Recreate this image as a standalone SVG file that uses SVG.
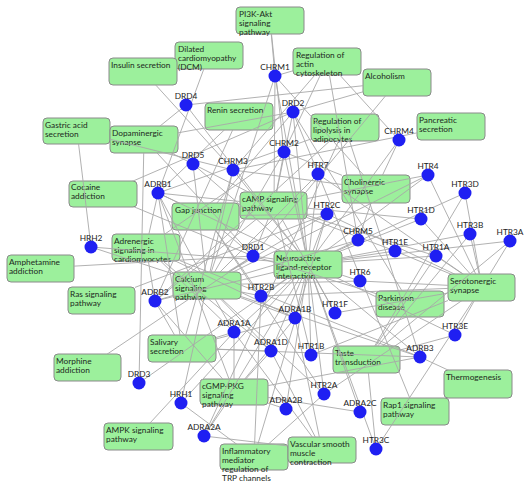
<svg xmlns="http://www.w3.org/2000/svg" width="529" height="488" viewBox="0 0 529 488">
<style>
.b rect{fill:#9cf09c;stroke:#8a8a8a;stroke-width:1}
.b text{font-family:Lato,"Liberation Sans",sans-serif;font-size:8.3px;fill:#1c2a1c}
.g circle{fill:#1f1ff2}
.g text{font-family:Lato,"Liberation Sans",sans-serif;font-size:8.3px;fill:#222;text-anchor:middle}
#edges line{stroke:#a8a8a8;stroke-width:0.9}
mask rect.w{fill:#fff}
mask rect.k{fill:#000}
</style>
<defs>
<mask id="m-pi3k" maskUnits="userSpaceOnUse" x="0" y="0" width="529" height="488"><rect class="w" width="529" height="488"/><rect class="k" x="236" y="7" width="68" height="27"/></mask>
<mask id="m-dcm" maskUnits="userSpaceOnUse" x="0" y="0" width="529" height="488"><rect class="w" width="529" height="488"/><rect class="k" x="175" y="42" width="68" height="27"/></mask>
<mask id="m-ins" maskUnits="userSpaceOnUse" x="0" y="0" width="529" height="488"><rect class="w" width="529" height="488"/><rect class="k" x="109" y="58" width="68" height="27"/></mask>
<mask id="m-act" maskUnits="userSpaceOnUse" x="0" y="0" width="529" height="488"><rect class="w" width="529" height="488"/><rect class="k" x="293" y="48" width="68" height="27"/></mask>
<mask id="m-alc" maskUnits="userSpaceOnUse" x="0" y="0" width="529" height="488"><rect class="w" width="529" height="488"/><rect class="k" x="363" y="69" width="68" height="27"/></mask>
<mask id="m-ren" maskUnits="userSpaceOnUse" x="0" y="0" width="529" height="488"><rect class="w" width="529" height="488"/><rect class="k" x="205" y="103" width="68" height="27"/></mask>
<mask id="m-lip" maskUnits="userSpaceOnUse" x="0" y="0" width="529" height="488"><rect class="w" width="529" height="488"/><rect class="k" x="311" y="114" width="68" height="27"/></mask>
<mask id="m-pan" maskUnits="userSpaceOnUse" x="0" y="0" width="529" height="488"><rect class="w" width="529" height="488"/><rect class="k" x="417" y="113" width="68" height="27"/></mask>
<mask id="m-gas" maskUnits="userSpaceOnUse" x="0" y="0" width="529" height="488"><rect class="w" width="529" height="488"/><rect class="k" x="43" y="118" width="67" height="26"/></mask>
<mask id="m-dop" maskUnits="userSpaceOnUse" x="0" y="0" width="529" height="488"><rect class="w" width="529" height="488"/><rect class="k" x="110" y="126" width="68" height="27"/></mask>
<mask id="m-coc" maskUnits="userSpaceOnUse" x="0" y="0" width="529" height="488"><rect class="w" width="529" height="488"/><rect class="k" x="69" y="181" width="68" height="26"/></mask>
<mask id="m-cho" maskUnits="userSpaceOnUse" x="0" y="0" width="529" height="488"><rect class="w" width="529" height="488"/><rect class="k" x="342" y="175" width="68" height="28"/></mask>
<mask id="m-camp" maskUnits="userSpaceOnUse" x="0" y="0" width="529" height="488"><rect class="w" width="529" height="488"/><rect class="k" x="240" y="192" width="67" height="27"/></mask>
<mask id="m-gap" maskUnits="userSpaceOnUse" x="0" y="0" width="529" height="488"><rect class="w" width="529" height="488"/><rect class="k" x="172" y="203" width="67" height="27"/></mask>
<mask id="m-adr" maskUnits="userSpaceOnUse" x="0" y="0" width="529" height="488"><rect class="w" width="529" height="488"/><rect class="k" x="112" y="234" width="68" height="27"/></mask>
<mask id="m-amp" maskUnits="userSpaceOnUse" x="0" y="0" width="529" height="488"><rect class="w" width="529" height="488"/><rect class="k" x="7" y="255" width="67" height="27"/></mask>
<mask id="m-ras" maskUnits="userSpaceOnUse" x="0" y="0" width="529" height="488"><rect class="w" width="529" height="488"/><rect class="k" x="68" y="287" width="67" height="27"/></mask>
<mask id="m-na" maskUnits="userSpaceOnUse" x="0" y="0" width="529" height="488"><rect class="w" width="529" height="488"/><rect class="k" x="274" y="251" width="68" height="27"/></mask>
<mask id="m-cal" maskUnits="userSpaceOnUse" x="0" y="0" width="529" height="488"><rect class="w" width="529" height="488"/><rect class="k" x="173" y="272" width="68" height="27"/></mask>
<mask id="m-ser" maskUnits="userSpaceOnUse" x="0" y="0" width="529" height="488"><rect class="w" width="529" height="488"/><rect class="k" x="448" y="274" width="67" height="27"/></mask>
<mask id="m-par" maskUnits="userSpaceOnUse" x="0" y="0" width="529" height="488"><rect class="w" width="529" height="488"/><rect class="k" x="376" y="291" width="68" height="26"/></mask>
<mask id="m-sal" maskUnits="userSpaceOnUse" x="0" y="0" width="529" height="488"><rect class="w" width="529" height="488"/><rect class="k" x="148" y="335" width="68" height="27"/></mask>
<mask id="m-mor" maskUnits="userSpaceOnUse" x="0" y="0" width="529" height="488"><rect class="w" width="529" height="488"/><rect class="k" x="54" y="354" width="67" height="27"/></mask>
<mask id="m-tas" maskUnits="userSpaceOnUse" x="0" y="0" width="529" height="488"><rect class="w" width="529" height="488"/><rect class="k" x="333" y="346" width="67" height="27"/></mask>
<mask id="m-the" maskUnits="userSpaceOnUse" x="0" y="0" width="529" height="488"><rect class="w" width="529" height="488"/><rect class="k" x="444" y="370" width="68" height="28"/></mask>
<mask id="m-cgmp" maskUnits="userSpaceOnUse" x="0" y="0" width="529" height="488"><rect class="w" width="529" height="488"/><rect class="k" x="200" y="379" width="68" height="26"/></mask>
<mask id="m-rap" maskUnits="userSpaceOnUse" x="0" y="0" width="529" height="488"><rect class="w" width="529" height="488"/><rect class="k" x="381" y="398" width="68" height="27"/></mask>
<mask id="m-ampk" maskUnits="userSpaceOnUse" x="0" y="0" width="529" height="488"><rect class="w" width="529" height="488"/><rect class="k" x="104" y="423" width="69" height="27"/></mask>
<mask id="m-inf" maskUnits="userSpaceOnUse" x="0" y="0" width="529" height="488"><rect class="w" width="529" height="488"/><rect class="k" x="220" y="444" width="68" height="26"/></mask>
<mask id="m-vas" maskUnits="userSpaceOnUse" x="0" y="0" width="529" height="488"><rect class="w" width="529" height="488"/><rect class="k" x="288" y="437" width="68" height="26"/></mask>
</defs>
<rect width="529" height="488" fill="#fff"/>
<g id="n-pi3k" class="b"><rect x="236" y="7" width="68" height="27" rx="4"/><text x="239" y="17">PI3K-Akt<tspan x="239" dy="9">signaling</tspan><tspan x="239" dy="9">pathway</tspan></text></g>
<g id="n-dcm" class="b"><rect x="175" y="42" width="68" height="27" rx="4"/><text x="178" y="52">Dilated<tspan x="178" dy="9">cardiomyopathy</tspan><tspan x="178" dy="9">(DCM)</tspan></text></g>
<g id="n-ins" class="b"><rect x="109" y="58" width="68" height="27" rx="4"/><text x="111" y="68">Insulin secretion</text></g>
<g id="n-act" class="b"><rect x="293" y="48" width="68" height="27" rx="4"/><text x="296" y="58">Regulation of<tspan x="296" dy="9">actin</tspan><tspan x="296" dy="9">cytoskeleton</tspan></text></g>
<g id="n-alc" class="b"><rect x="363" y="69" width="68" height="27" rx="4"/><text x="365" y="79">Alcoholism</text></g>
<g id="n-ren" class="b"><rect x="205" y="103" width="68" height="27" rx="4"/><text x="207" y="113">Renin secretion</text></g>
<g id="n-lip" class="b"><rect x="311" y="114" width="68" height="27" rx="4"/><text x="313" y="124">Regulation of<tspan x="313" dy="9">lipolysis in</tspan><tspan x="313" dy="9">adipocytes</tspan></text></g>
<g id="n-pan" class="b"><rect x="417" y="113" width="68" height="27" rx="4"/><text x="419" y="123">Pancreatic<tspan x="419" dy="9">secretion</tspan></text></g>
<g id="n-gas" class="b"><rect x="43" y="118" width="67" height="26" rx="4"/><text x="45" y="128">Gastric acid<tspan x="45" dy="9">secretion</tspan></text></g>
<g id="n-dop" class="b"><rect x="110" y="126" width="68" height="27" rx="4"/><text x="112" y="136">Dopaminergic<tspan x="112" dy="9">synapse</tspan></text></g>
<g id="n-coc" class="b"><rect x="69" y="181" width="68" height="26" rx="4"/><text x="71" y="190">Cocaine<tspan x="71" dy="9">addiction</tspan></text></g>
<g id="n-cho" class="b"><rect x="342" y="175" width="68" height="28" rx="4"/><text x="344" y="185">Cholinergic<tspan x="344" dy="9">synapse</tspan></text></g>
<g id="n-camp" class="b"><rect x="240" y="192" width="67" height="27" rx="4"/><text x="242" y="202">cAMP signaling<tspan x="242" dy="9">pathway</tspan></text></g>
<g id="n-gap" class="b"><rect x="172" y="203" width="67" height="27" rx="4"/><text x="175" y="213">Gap junction</text></g>
<g id="n-adr" class="b"><rect x="112" y="234" width="68" height="27" rx="4"/><text x="114" y="244">Adrenergic<tspan x="114" dy="9">signaling in</tspan><tspan x="114" dy="9">cardiomyocytes</tspan></text></g>
<g id="n-amp" class="b"><rect x="7" y="255" width="67" height="27" rx="4"/><text x="9" y="265">Amphetamine<tspan x="9" dy="9">addiction</tspan></text></g>
<g id="n-ras" class="b"><rect x="68" y="287" width="67" height="27" rx="4"/><text x="70" y="297">Ras signaling<tspan x="70" dy="9">pathway</tspan></text></g>
<g id="n-na" class="b"><rect x="274" y="251" width="68" height="27" rx="4"/><text x="276" y="261">Neuroactive<tspan x="276" dy="9">ligand-receptor</tspan><tspan x="276" dy="9">interaction</tspan></text></g>
<g id="n-cal" class="b"><rect x="173" y="272" width="68" height="27" rx="4"/><text x="175" y="282">Calcium<tspan x="175" dy="9">signaling</tspan><tspan x="175" dy="9">pathway</tspan></text></g>
<g id="n-ser" class="b"><rect x="448" y="274" width="67" height="27" rx="4"/><text x="450" y="284">Serotonergic<tspan x="450" dy="9">synapse</tspan></text></g>
<g id="n-par" class="b"><rect x="376" y="291" width="68" height="26" rx="4"/><text x="378" y="301">Parkinson<tspan x="378" dy="9">disease</tspan></text></g>
<g id="n-sal" class="b"><rect x="148" y="335" width="68" height="27" rx="4"/><text x="150" y="345">Salivary<tspan x="150" dy="9">secretion</tspan></text></g>
<g id="n-mor" class="b"><rect x="54" y="354" width="67" height="27" rx="4"/><text x="56" y="364">Morphine<tspan x="56" dy="9">addiction</tspan></text></g>
<g id="n-tas" class="b"><rect x="333" y="346" width="67" height="27" rx="4"/><text x="335" y="356">Taste<tspan x="335" dy="9">transduction</tspan></text></g>
<g id="n-the" class="b"><rect x="444" y="370" width="68" height="28" rx="4"/><text x="446" y="380">Thermogenesis</text></g>
<g id="n-cgmp" class="b"><rect x="200" y="379" width="68" height="26" rx="4"/><text x="202" y="389">cGMP-PKG<tspan x="202" dy="9">signaling</tspan><tspan x="202" dy="9">pathway</tspan></text></g>
<g id="n-rap" class="b"><rect x="381" y="398" width="68" height="27" rx="4"/><text x="383" y="408">Rap1 signaling<tspan x="383" dy="9">pathway</tspan></text></g>
<g id="n-ampk" class="b"><rect x="104" y="423" width="69" height="27" rx="4"/><text x="106" y="433">AMPK signaling<tspan x="106" dy="9">pathway</tspan></text></g>
<g id="n-inf" class="b"><rect x="220" y="444" width="68" height="26" rx="4"/><text x="222" y="454">Inflammatory<tspan x="222" dy="9">mediator</tspan><tspan x="222" dy="9">regulation of</tspan><tspan x="222" dy="9">TRP channels</tspan></text></g>
<g id="n-vas" class="b"><rect x="288" y="437" width="68" height="26" rx="4"/><text x="290" y="447">Vascular smooth<tspan x="290" dy="9">muscle</tspan><tspan x="290" dy="9">contraction</tspan></text></g>
<g id="edges">
<g mask="url(#m-na)"><line x1="308" y1="264" x2="275" y2="76"/><line x1="308" y1="264" x2="284" y2="152"/><line x1="308" y1="264" x2="233" y2="170"/><line x1="308" y1="264" x2="399" y2="140"/><line x1="308" y1="264" x2="358" y2="240"/><line x1="308" y1="264" x2="253" y2="256"/><line x1="308" y1="264" x2="293" y2="112"/><line x1="308" y1="264" x2="139" y2="383"/><line x1="308" y1="264" x2="186" y2="105"/><line x1="308" y1="264" x2="193" y2="164"/><line x1="308" y1="264" x2="436" y2="256"/><line x1="308" y1="264" x2="311" y2="355"/><line x1="308" y1="264" x2="421" y2="219"/><line x1="308" y1="264" x2="395" y2="251"/><line x1="308" y1="264" x2="335" y2="313"/><line x1="308" y1="264" x2="324" y2="394"/><line x1="308" y1="264" x2="261" y2="296"/><line x1="308" y1="264" x2="327" y2="214"/><line x1="308" y1="264" x2="510" y2="241"/><line x1="308" y1="264" x2="470" y2="234"/><line x1="308" y1="264" x2="376" y2="449"/><line x1="308" y1="264" x2="465" y2="193"/><line x1="308" y1="264" x2="455" y2="335"/><line x1="308" y1="264" x2="428" y2="175"/><line x1="308" y1="264" x2="360" y2="281"/><line x1="308" y1="264" x2="318" y2="174"/><line x1="308" y1="264" x2="234" y2="332"/><line x1="308" y1="264" x2="295" y2="318"/><line x1="308" y1="264" x2="271" y2="351"/><line x1="308" y1="264" x2="204" y2="436"/><line x1="308" y1="264" x2="286" y2="409"/><line x1="308" y1="264" x2="360" y2="412"/><line x1="308" y1="264" x2="158" y2="193"/><line x1="308" y1="264" x2="155" y2="301"/><line x1="308" y1="264" x2="420" y2="357"/><line x1="308" y1="264" x2="181" y2="403"/><line x1="308" y1="264" x2="91" y2="247"/></g>
<g mask="url(#m-pi3k)"><line x1="270" y1="20" x2="275" y2="76"/><line x1="270" y1="20" x2="284" y2="152"/></g>
<g mask="url(#m-dcm)"><line x1="209" y1="55" x2="158" y2="193"/></g>
<g mask="url(#m-ins)"><line x1="143" y1="71" x2="233" y2="170"/></g>
<g mask="url(#m-act)"><line x1="327" y1="61" x2="275" y2="76"/><line x1="327" y1="61" x2="284" y2="152"/><line x1="327" y1="61" x2="233" y2="170"/><line x1="327" y1="61" x2="399" y2="140"/><line x1="327" y1="61" x2="358" y2="240"/></g>
<g mask="url(#m-alc)"><line x1="397" y1="82" x2="253" y2="256"/><line x1="397" y1="82" x2="293" y2="112"/><line x1="397" y1="82" x2="186" y2="105"/></g>
<g mask="url(#m-ren)"><line x1="239" y1="116" x2="158" y2="193"/><line x1="239" y1="116" x2="155" y2="301"/></g>
<g mask="url(#m-lip)"><line x1="345" y1="127" x2="158" y2="193"/><line x1="345" y1="127" x2="155" y2="301"/><line x1="345" y1="127" x2="420" y2="357"/><line x1="345" y1="127" x2="204" y2="436"/></g>
<g mask="url(#m-pan)"><line x1="451" y1="126" x2="233" y2="170"/></g>
<g mask="url(#m-gas)"><line x1="77" y1="131" x2="233" y2="170"/><line x1="77" y1="131" x2="91" y2="247"/></g>
<g mask="url(#m-dop)"><line x1="144" y1="139" x2="253" y2="256"/><line x1="144" y1="139" x2="293" y2="112"/><line x1="144" y1="139" x2="139" y2="383"/><line x1="144" y1="139" x2="186" y2="105"/><line x1="144" y1="139" x2="193" y2="164"/></g>
<g mask="url(#m-coc)"><line x1="103" y1="194" x2="253" y2="256"/><line x1="103" y1="194" x2="293" y2="112"/></g>
<g mask="url(#m-cho)"><line x1="376" y1="189" x2="275" y2="76"/><line x1="376" y1="189" x2="284" y2="152"/><line x1="376" y1="189" x2="233" y2="170"/><line x1="376" y1="189" x2="399" y2="140"/><line x1="376" y1="189" x2="358" y2="240"/></g>
<g mask="url(#m-camp)"><line x1="274" y1="205" x2="158" y2="193"/><line x1="274" y1="205" x2="155" y2="301"/><line x1="274" y1="205" x2="275" y2="76"/><line x1="274" y1="205" x2="284" y2="152"/><line x1="274" y1="205" x2="253" y2="256"/><line x1="274" y1="205" x2="293" y2="112"/><line x1="274" y1="205" x2="193" y2="164"/><line x1="274" y1="205" x2="436" y2="256"/><line x1="274" y1="205" x2="311" y2="355"/><line x1="274" y1="205" x2="421" y2="219"/><line x1="274" y1="205" x2="395" y2="251"/><line x1="274" y1="205" x2="335" y2="313"/><line x1="274" y1="205" x2="428" y2="175"/></g>
<g mask="url(#m-gap)"><line x1="206" y1="216" x2="158" y2="193"/><line x1="206" y1="216" x2="253" y2="256"/><line x1="206" y1="216" x2="293" y2="112"/><line x1="206" y1="216" x2="324" y2="394"/><line x1="206" y1="216" x2="261" y2="296"/><line x1="206" y1="216" x2="327" y2="214"/></g>
<g mask="url(#m-adr)"><line x1="146" y1="247" x2="234" y2="332"/><line x1="146" y1="247" x2="295" y2="318"/><line x1="146" y1="247" x2="271" y2="351"/><line x1="146" y1="247" x2="158" y2="193"/><line x1="146" y1="247" x2="155" y2="301"/><line x1="146" y1="247" x2="420" y2="357"/><line x1="146" y1="247" x2="284" y2="152"/></g>
<g mask="url(#m-amp)"><line x1="41" y1="268" x2="253" y2="256"/></g>
<g mask="url(#m-ras)"><line x1="102" y1="300" x2="327" y2="214"/></g>
<g mask="url(#m-cal)"><line x1="207" y1="285" x2="234" y2="332"/><line x1="207" y1="285" x2="295" y2="318"/><line x1="207" y1="285" x2="271" y2="351"/><line x1="207" y1="285" x2="158" y2="193"/><line x1="207" y1="285" x2="155" y2="301"/><line x1="207" y1="285" x2="420" y2="357"/><line x1="207" y1="285" x2="275" y2="76"/><line x1="207" y1="285" x2="284" y2="152"/><line x1="207" y1="285" x2="233" y2="170"/><line x1="207" y1="285" x2="358" y2="240"/><line x1="207" y1="285" x2="253" y2="256"/><line x1="207" y1="285" x2="193" y2="164"/><line x1="207" y1="285" x2="324" y2="394"/><line x1="207" y1="285" x2="261" y2="296"/><line x1="207" y1="285" x2="327" y2="214"/><line x1="207" y1="285" x2="428" y2="175"/><line x1="207" y1="285" x2="360" y2="281"/><line x1="207" y1="285" x2="318" y2="174"/><line x1="207" y1="285" x2="181" y2="403"/><line x1="207" y1="285" x2="91" y2="247"/></g>
<g mask="url(#m-ser)"><line x1="482" y1="287" x2="436" y2="256"/><line x1="482" y1="287" x2="311" y2="355"/><line x1="482" y1="287" x2="421" y2="219"/><line x1="482" y1="287" x2="395" y2="251"/><line x1="482" y1="287" x2="335" y2="313"/><line x1="482" y1="287" x2="324" y2="394"/><line x1="482" y1="287" x2="261" y2="296"/><line x1="482" y1="287" x2="327" y2="214"/><line x1="482" y1="287" x2="510" y2="241"/><line x1="482" y1="287" x2="470" y2="234"/><line x1="482" y1="287" x2="376" y2="449"/><line x1="482" y1="287" x2="465" y2="193"/><line x1="482" y1="287" x2="455" y2="335"/><line x1="482" y1="287" x2="428" y2="175"/><line x1="482" y1="287" x2="360" y2="281"/><line x1="482" y1="287" x2="318" y2="174"/></g>
<g mask="url(#m-par)"><line x1="410" y1="304" x2="253" y2="256"/><line x1="410" y1="304" x2="293" y2="112"/></g>
<g mask="url(#m-sal)"><line x1="182" y1="348" x2="234" y2="332"/><line x1="182" y1="348" x2="295" y2="318"/><line x1="182" y1="348" x2="271" y2="351"/><line x1="182" y1="348" x2="158" y2="193"/><line x1="182" y1="348" x2="155" y2="301"/><line x1="182" y1="348" x2="420" y2="357"/><line x1="182" y1="348" x2="233" y2="170"/></g>
<g mask="url(#m-mor)"><line x1="88" y1="367" x2="253" y2="256"/></g>
<g mask="url(#m-tas)"><line x1="367" y1="359" x2="436" y2="256"/><line x1="367" y1="359" x2="510" y2="241"/><line x1="367" y1="359" x2="470" y2="234"/><line x1="367" y1="359" x2="376" y2="449"/><line x1="367" y1="359" x2="465" y2="193"/><line x1="367" y1="359" x2="455" y2="335"/></g>
<g mask="url(#m-the)"><line x1="478" y1="384" x2="420" y2="357"/></g>
<g mask="url(#m-cgmp)"><line x1="234" y1="392" x2="234" y2="332"/><line x1="234" y1="392" x2="295" y2="318"/><line x1="234" y1="392" x2="271" y2="351"/><line x1="234" y1="392" x2="204" y2="436"/><line x1="234" y1="392" x2="286" y2="409"/><line x1="234" y1="392" x2="360" y2="412"/><line x1="234" y1="392" x2="158" y2="193"/><line x1="234" y1="392" x2="155" y2="301"/><line x1="234" y1="392" x2="420" y2="357"/></g>
<g mask="url(#m-rap)"><line x1="415" y1="411" x2="293" y2="112"/></g>
<g mask="url(#m-ampk)"><line x1="138" y1="436" x2="234" y2="332"/></g>
<g mask="url(#m-inf)"><line x1="254" y1="457" x2="181" y2="403"/><line x1="254" y1="457" x2="324" y2="394"/><line x1="254" y1="457" x2="261" y2="296"/><line x1="254" y1="457" x2="327" y2="214"/></g>
<g mask="url(#m-vas)"><line x1="322" y1="450" x2="234" y2="332"/><line x1="322" y1="450" x2="295" y2="318"/><line x1="322" y1="450" x2="271" y2="351"/><line x1="322" y1="450" x2="204" y2="436"/></g>
</g>
<g id="g-chrm1" class="g"><circle cx="275" cy="76" r="6.5"/><text x="275" y="70">CHRM1</text></g>
<g id="g-chrm2" class="g"><circle cx="284" cy="152" r="6.5"/><text x="284" y="146">CHRM2</text></g>
<g id="g-chrm3" class="g"><circle cx="233" cy="170" r="6.5"/><text x="233" y="164">CHRM3</text></g>
<g id="g-chrm4" class="g"><circle cx="399" cy="140" r="6.5"/><text x="399" y="134">CHRM4</text></g>
<g id="g-chrm5" class="g"><circle cx="358" cy="240" r="6.5"/><text x="358" y="234">CHRM5</text></g>
<g id="g-drd1" class="g"><circle cx="253" cy="256" r="6.5"/><text x="253" y="250">DRD1</text></g>
<g id="g-drd2" class="g"><circle cx="293" cy="112" r="6.5"/><text x="293" y="106">DRD2</text></g>
<g id="g-drd3" class="g"><circle cx="139" cy="383" r="6.5"/><text x="139" y="377">DRD3</text></g>
<g id="g-drd4" class="g"><circle cx="186" cy="105" r="6.5"/><text x="186" y="99">DRD4</text></g>
<g id="g-drd5" class="g"><circle cx="193" cy="164" r="6.5"/><text x="193" y="158">DRD5</text></g>
<g id="g-htr1a" class="g"><circle cx="436" cy="256" r="6.5"/><text x="436" y="250">HTR1A</text></g>
<g id="g-htr1b" class="g"><circle cx="311" cy="355" r="6.5"/><text x="311" y="349">HTR1B</text></g>
<g id="g-htr1d" class="g"><circle cx="421" cy="219" r="6.5"/><text x="421" y="213">HTR1D</text></g>
<g id="g-htr1e" class="g"><circle cx="395" cy="251" r="6.5"/><text x="395" y="245">HTR1E</text></g>
<g id="g-htr1f" class="g"><circle cx="335" cy="313" r="6.5"/><text x="335" y="307">HTR1F</text></g>
<g id="g-htr2a" class="g"><circle cx="324" cy="394" r="6.5"/><text x="324" y="388">HTR2A</text></g>
<g id="g-htr2b" class="g"><circle cx="261" cy="296" r="6.5"/><text x="261" y="290">HTR2B</text></g>
<g id="g-htr2c" class="g"><circle cx="327" cy="214" r="6.5"/><text x="327" y="208">HTR2C</text></g>
<g id="g-htr3a" class="g"><circle cx="510" cy="241" r="6.5"/><text x="510" y="235">HTR3A</text></g>
<g id="g-htr3b" class="g"><circle cx="470" cy="234" r="6.5"/><text x="470" y="228">HTR3B</text></g>
<g id="g-htr3c" class="g"><circle cx="376" cy="449" r="6.5"/><text x="376" y="443">HTR3C</text></g>
<g id="g-htr3d" class="g"><circle cx="465" cy="193" r="6.5"/><text x="465" y="187">HTR3D</text></g>
<g id="g-htr3e" class="g"><circle cx="455" cy="335" r="6.5"/><text x="455" y="329">HTR3E</text></g>
<g id="g-htr4" class="g"><circle cx="428" cy="175" r="6.5"/><text x="428" y="169">HTR4</text></g>
<g id="g-htr6" class="g"><circle cx="360" cy="281" r="6.5"/><text x="360" y="275">HTR6</text></g>
<g id="g-htr7" class="g"><circle cx="318" cy="174" r="6.5"/><text x="318" y="168">HTR7</text></g>
<g id="g-adra1a" class="g"><circle cx="234" cy="332" r="6.5"/><text x="234" y="326">ADRA1A</text></g>
<g id="g-adra1b" class="g"><circle cx="295" cy="318" r="6.5"/><text x="295" y="312">ADRA1B</text></g>
<g id="g-adra1d" class="g"><circle cx="271" cy="351" r="6.5"/><text x="271" y="345">ADRA1D</text></g>
<g id="g-adra2a" class="g"><circle cx="204" cy="436" r="6.5"/><text x="204" y="430">ADRA2A</text></g>
<g id="g-adra2b" class="g"><circle cx="286" cy="409" r="6.5"/><text x="286" y="403">ADRA2B</text></g>
<g id="g-adra2c" class="g"><circle cx="360" cy="412" r="6.5"/><text x="360" y="406">ADRA2C</text></g>
<g id="g-adrb1" class="g"><circle cx="158" cy="193" r="6.5"/><text x="158" y="187">ADRB1</text></g>
<g id="g-adrb2" class="g"><circle cx="155" cy="301" r="6.5"/><text x="155" y="295">ADRB2</text></g>
<g id="g-adrb3" class="g"><circle cx="420" cy="357" r="6.5"/><text x="420" y="351">ADRB3</text></g>
<g id="g-hrh1" class="g"><circle cx="181" cy="403" r="6.5"/><text x="181" y="397">HRH1</text></g>
<g id="g-hrh2" class="g"><circle cx="91" cy="247" r="6.5"/><text x="91" y="241">HRH2</text></g>
</svg>
